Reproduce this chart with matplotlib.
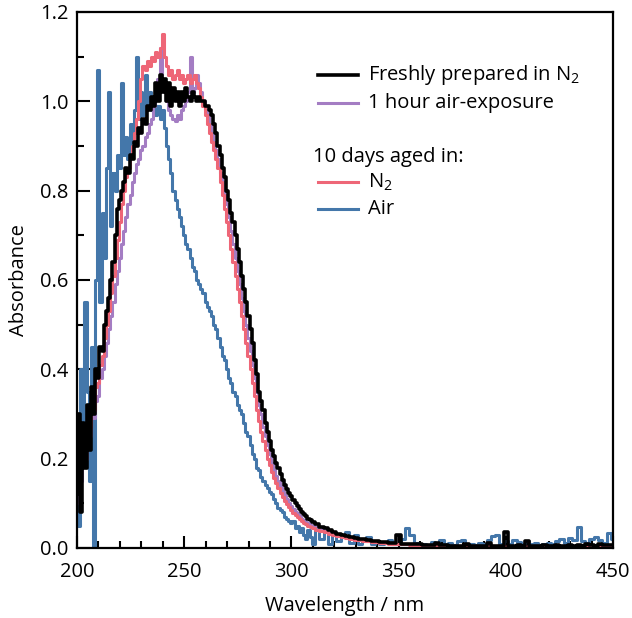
import numpy as np
import matplotlib
matplotlib.use("Agg")
import matplotlib.pyplot as plt
from matplotlib.ticker import MultipleLocator, FormatStrFormatter

plt.rcParams['font.family'] = ['Open Sans', 'DejaVu Sans']
plt.rcParams['mathtext.fontset'] = 'custom'
plt.rcParams['mathtext.rm'] = 'Open Sans'

# wavelength grid: 1 nm steps up to 310 nm, then 2 nm steps
wl_fine = np.arange(200, 311, 1)
wl_tail = np.arange(312, 451, 2)
wavelength = np.concatenate([wl_fine, wl_tail])

# freshly prepared in N2
fresh_n2 = [
    0.12, 0.30, 0.08, 0.28, 0.18, 0.32, 0.22, 0.36, 0.30, 0.40,   # 200-209
    0.38, 0.45, 0.44, 0.50, 0.53, 0.56, 0.60, 0.64, 0.70, 0.76,   # 210-219
    0.78, 0.80, 0.82, 0.85, 0.84, 0.88, 0.87, 0.91, 0.90, 0.94,   # 220-229
    0.93, 0.96, 0.95, 0.99, 0.98, 1.01, 0.99, 1.04, 1.00, 1.06,   # 230-239
    1.02, 1.05, 1.00, 1.04, 0.99, 1.03, 1.00, 1.02, 0.99, 1.02,   # 240-249
    1.00, 1.03, 1.01, 1.00, 1.02, 1.01, 1.00, 1.01, 1.00, 1.00,   # 250-259
    0.99, 0.99, 0.98, 0.97, 0.95, 0.93, 0.90, 0.88, 0.85, 0.83,   # 260-269
    0.80, 0.78, 0.75, 0.73, 0.70, 0.67, 0.64, 0.61, 0.58, 0.55,   # 270-279
    0.52, 0.49, 0.46, 0.42, 0.39, 0.35, 0.33, 0.31, 0.28, 0.26,   # 280-289
    0.24, 0.22, 0.205, 0.19, 0.178, 0.165, 0.153, 0.142, 0.133, 0.124,  # 290-299
    0.116, 0.108, 0.100, 0.093, 0.087, 0.081, 0.076, 0.071, 0.066, 0.062,  # 300-309
    0.058,                                                         # 310
    0.053, 0.048, 0.044, 0.040, 0.036, 0.032, 0.029, 0.027, 0.025, 0.022,  # 312-330
    0.021, 0.019, 0.018, 0.016, 0.015, 0.014, 0.013, 0.012, 0.011, 0.030,  # 332-350
    0.010, 0.009, 0.009, 0.008, 0.008, 0.007, 0.007, 0.006, 0.012, 0.006,  # 352-370
    0.006, 0.005, 0.005, 0.005, 0.005, 0.010, 0.004, 0.005, 0.004, 0.005,  # 372-390
    0.012, 0.004, 0.005, 0.004, 0.035, 0.005, 0.004, 0.006, 0.004, 0.016,  # 392-410
    0.004, 0.005, 0.004, 0.006, 0.005, 0.004, 0.006, 0.005, 0.004, 0.007,  # 412-430
    0.005, 0.006, 0.005, 0.008, 0.006, 0.005, 0.008, 0.006, 0.007, 0.006,  # 432-450
]

# 1 hour air exposure
air_1h = [
    0.10, 0.22, 0.15, 0.25, 0.20, 0.28, 0.25, 0.30, 0.29, 0.33,
    0.34, 0.38, 0.40, 0.43, 0.46, 0.49, 0.52, 0.55, 0.59, 0.62,
    0.65, 0.68, 0.71, 0.74, 0.77, 0.79, 0.82, 0.84, 0.86, 0.87,
    0.89, 0.90, 0.92, 0.93, 0.95, 0.96, 0.99, 1.02, 1.05, 1.12,
    1.04, 1.02, 1.00, 0.98, 0.97, 0.96, 0.955, 0.97, 0.96, 0.98,
    0.99, 1.00, 1.02, 1.10, 1.02, 1.03, 1.06, 1.04, 1.02, 1.00,
    0.98, 0.97, 0.95, 0.93, 0.91, 0.89, 0.87, 0.84, 0.82, 0.79,
    0.77, 0.74, 0.71, 0.68, 0.65, 0.62, 0.59, 0.56, 0.53, 0.50,
    0.47, 0.44, 0.41, 0.38, 0.35, 0.32, 0.30, 0.27, 0.25, 0.23,
    0.21, 0.19, 0.175, 0.162, 0.150, 0.139, 0.128, 0.118, 0.109, 0.101,
    0.094, 0.087, 0.081, 0.076, 0.071, 0.066, 0.062, 0.058, 0.055, 0.052,
    0.049,
    0.046, 0.042, 0.038, 0.035, 0.032, 0.029, 0.027, 0.024, 0.022, 0.020,
    0.019, 0.017, 0.016, 0.015, 0.014, 0.013, 0.012, 0.011, 0.010, 0.009,
    0.009, 0.008, 0.008, 0.007, 0.007, 0.006, 0.006, 0.006, 0.005, 0.005,
    0.005, 0.005, 0.004, 0.004, 0.005, 0.004, 0.004, 0.005, 0.004, 0.004,
    0.004, 0.005, 0.004, 0.004, 0.005, 0.004, 0.004, 0.005, 0.004, 0.004,
    0.005, 0.004, 0.004, 0.005, 0.004, 0.004, 0.005, 0.004, 0.004, 0.005,
    0.004, 0.004, 0.005, 0.004, 0.004, 0.005, 0.004, 0.004, 0.005, 0.004,
]

# 10 days aged in N2
aged_n2 = [
    0.15, 0.25, 0.18, 0.27, 0.22, 0.30, 0.27, 0.33, 0.31, 0.36,
    0.37, 0.41, 0.43, 0.47, 0.50, 0.53, 0.57, 0.61, 0.65, 0.69,
    0.73, 0.77, 0.80, 0.83, 0.85, 0.88, 0.90, 0.93, 0.96, 1.00,
    1.05, 1.08, 1.07, 1.09, 1.08, 1.10, 1.09, 1.11, 1.10, 1.12,
    1.15, 1.10, 1.08, 1.06, 1.07, 1.05, 1.06, 1.07, 1.05, 1.06,
    1.04, 1.05, 1.06, 1.04, 1.05, 1.06, 1.04, 1.03, 1.01, 0.99,
    0.97, 0.95, 0.93, 0.91, 0.89, 0.87, 0.85, 0.82, 0.79, 0.76,
    0.73, 0.70, 0.67, 0.64, 0.61, 0.58, 0.55, 0.52, 0.49, 0.46,
    0.43, 0.40, 0.37, 0.34, 0.31, 0.285, 0.26, 0.24, 0.22, 0.20,
    0.185, 0.170, 0.157, 0.145, 0.134, 0.124, 0.115, 0.106, 0.098, 0.091,
    0.085, 0.079, 0.074, 0.069, 0.064, 0.060, 0.056, 0.053, 0.050, 0.047,
    0.045,
    0.041, 0.038, 0.035, 0.032, 0.029, 0.026, 0.024, 0.022, 0.020, 0.018,
    0.017, 0.016, 0.015, 0.014, 0.013, 0.012, 0.011, 0.010, 0.009, 0.009,
    0.008, 0.008, 0.007, 0.007, 0.006, 0.006, 0.006, 0.005, 0.005, 0.005,
    0.005, 0.004, 0.004, 0.004, 0.005, 0.004, 0.004, 0.004, 0.005, 0.004,
    0.004, 0.004, 0.005, 0.004, 0.004, 0.004, 0.005, 0.004, 0.004, 0.004,
    0.005, 0.004, 0.004, 0.004, 0.005, 0.004, 0.004, 0.004, 0.005, 0.004,
    0.004, 0.004, 0.005, 0.004, 0.004, 0.004, 0.005, 0.004, 0.004, 0.004,
]

# 10 days aged in air
aged_air = [
    0.30, 0.05, 0.40, 0.20, 0.55, 0.35, 0.15, 0.45, 0.00, 0.60,
    1.07, 0.55, 0.75, 0.65, 0.85, 1.02, 0.72, 0.84, 0.80, 0.88,
    0.85, 1.04, 0.88, 0.92, 0.87, 0.95, 0.91, 0.98, 1.10, 0.96,
    1.02, 0.97, 1.06, 0.99, 1.02, 0.98, 1.01, 0.97, 0.99, 0.96,
    0.98, 0.94, 0.90, 0.87, 0.84, 0.80, 0.78, 0.76, 0.74, 0.72,
    0.70, 0.68, 0.67, 0.65, 0.63, 0.62, 0.60, 0.59, 0.58, 0.57,
    0.55, 0.54, 0.53, 0.52, 0.50, 0.49, 0.47, 0.45, 0.43, 0.42,
    0.40, 0.38, 0.37, 0.35, 0.34, 0.32, 0.31, 0.30, 0.28, 0.26,
    0.25, 0.23, 0.21, 0.20, 0.18, 0.175, 0.16, 0.15, 0.14, 0.135,
    0.125, 0.12, 0.11, 0.10, 0.09, 0.085, 0.08, 0.07, 0.065, 0.06,
    0.055, 0.06, 0.045, 0.05, 0.035, 0.045, 0.03, 0.02, 0.04, 0.025,
    0.01,
    0.040, 0.020, 0.035, 0.010, 0.030, 0.015, 0.025, 0.035, 0.012, 0.028,
    0.010, 0.020, 0.025, 0.008, 0.015, 0.010, 0.012, 0.018, 0.008, 0.010,
    0.020, 0.045, 0.030, 0.012, 0.008, 0.010, 0.006, 0.014, 0.008, 0.018,
    0.010, 0.012, 0.006, 0.015, 0.018, 0.008, 0.010, 0.006, 0.012, 0.010,
    0.018, 0.026, 0.030, 0.010, 0.015, 0.008, 0.018, 0.014, 0.010, 0.016,
    0.008, 0.012, 0.006, 0.010, 0.012, 0.008, 0.016, 0.020, 0.012, 0.022,
    0.018, 0.046, 0.015, 0.012, 0.020, 0.025, 0.018, 0.012, 0.034, 0.020,
]

c_black = '#000000'
c_purple = '#A47DC3'
c_red = '#EE6677'
c_blue = '#4477AA'

fig = plt.figure(figsize=(6.32, 6.18), dpi=100)
ax = fig.add_axes([0.1218, 0.1133, 0.8482, 0.8673])

ax.plot(wavelength, aged_air, drawstyle='steps-mid', color=c_blue, lw=2.2)
ax.plot(wavelength, air_1h, drawstyle='steps-mid', color=c_purple, lw=2.2)
ax.plot(wavelength, aged_n2, drawstyle='steps-mid', color=c_red, lw=2.2)
ax.plot(wavelength, fresh_n2, drawstyle='steps-mid', color=c_black, lw=2.6)

ax.set_xlim(200, 450)
ax.set_ylim(0, 1.2)
ax.xaxis.set_major_locator(MultipleLocator(50))
ax.xaxis.set_minor_locator(MultipleLocator(10))
ax.yaxis.set_major_locator(MultipleLocator(0.2))
ax.yaxis.set_minor_locator(MultipleLocator(0.1))
ax.yaxis.set_major_formatter(FormatStrFormatter('%.1f'))
ax.tick_params(which='both', direction='in', top=False, right=False,
               width=1.5, labelsize=14.5)
ax.tick_params(which='major', length=9)
ax.tick_params(which='minor', length=5)
ax.tick_params(axis='x', which='major', pad=10)
ax.tick_params(axis='y', which='major', pad=6)
for sp in ax.spines.values():
    sp.set_linewidth(1.6)

ax.set_xlabel('Wavelength / nm', fontsize=14.5, labelpad=10)
ax.set_ylabel('Absorbance', fontsize=14.5, labelpad=8)

# legend built by hand (has a header line with no handle)
rows = [
    (0.8825, c_black, 2.6, 'Freshly prepared in N$_2$'),
    (0.8303, c_purple, 2.2, '1 hour air-exposure'),
    (0.682, c_red, 2.2, 'N$_2$'),
    (0.633, c_blue, 2.2, 'Air'),
]
for y, col, lw, label in rows:
    ax.plot([0.450, 0.524], [y, y], color=col, lw=lw, transform=ax.transAxes)
    ax.text(0.543, y, label, transform=ax.transAxes, fontsize=14.5, va='center')
ax.text(0.440, 0.730, '10 days aged in:', transform=ax.transAxes,
        fontsize=14.5, va='center')

fig.savefig('out.png', dpi=100)
